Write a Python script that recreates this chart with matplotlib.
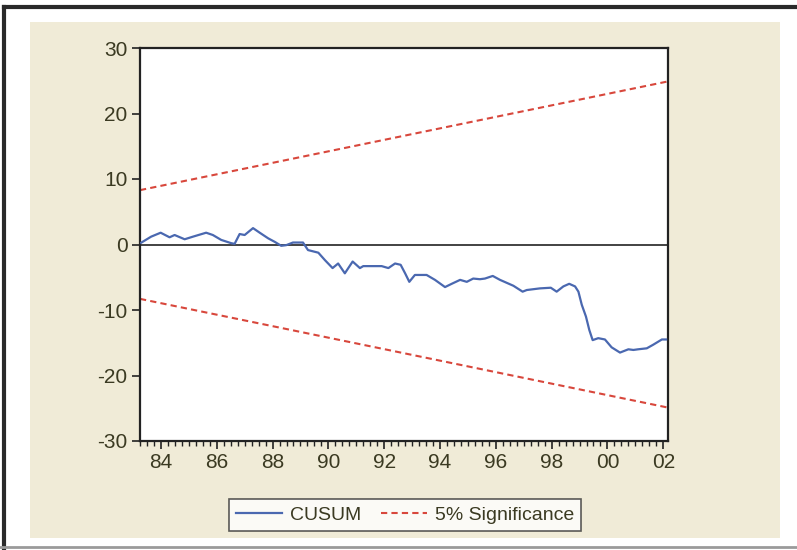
#CUSUM test plot (recursive residuals) with 5% bands
import matplotlib
matplotlib.use('Agg')
import matplotlib.pyplot as plt
from matplotlib.ticker import FixedLocator, FuncFormatter, MultipleLocator
from matplotlib.patches import Rectangle
from matplotlib.lines import Line2D

# values
years = [1983.29, 1983.65, 1983.99, 1984.31, 1984.49, 1984.85, 1985.15, 1985.62,
         1985.86, 1986.16, 1986.52, 1986.64, 1986.82, 1987.00, 1987.30, 1987.54,
         1987.84, 1988.08, 1988.31, 1988.49, 1988.73, 1989.09, 1989.27, 1989.64,
         1989.88, 1990.15, 1990.35, 1990.59, 1990.87, 1991.13, 1991.25, 1991.91,
         1992.15, 1992.39, 1992.59, 1992.75, 1992.90, 1993.10, 1993.52, 1993.82,
         1994.18, 1994.42, 1994.72, 1994.96, 1995.19, 1995.43, 1995.61, 1995.89,
         1996.15, 1996.63, 1996.96, 1997.11, 1997.58, 1997.97, 1998.18, 1998.42,
         1998.63, 1998.84, 1998.96, 1999.08, 1999.23, 1999.35, 1999.47, 1999.67,
         1999.91, 2000.15, 2000.45, 2000.75, 2000.93, 2001.10, 2001.41, 2001.64,
         2001.95, 2002.10]
cusum = [0.27, 1.2, 1.8, 1.1, 1.45, 0.8, 1.2, 1.8,
         1.45, 0.7, 0.2, 0.1, 1.6, 1.45, 2.5, 1.8,
         0.95, 0.4, -0.2, -0.1, 0.3, 0.3, -0.85, -1.25,
         -2.4, -3.6, -2.9, -4.4, -2.6, -3.6, -3.3, -3.3,
         -3.6, -2.9, -3.1, -4.4, -5.7, -4.65, -4.65, -5.4,
         -6.5, -6.0, -5.4, -5.7, -5.2, -5.3, -5.2, -4.8,
         -5.4, -6.3, -7.2, -6.95, -6.7, -6.6, -7.2, -6.4,
         -6.0, -6.4, -7.2, -9.2, -11.0, -13.05, -14.6, -14.3,
         -14.5, -15.7, -16.5, -16.0, -16.1, -16.0, -15.85, -15.3,
         -14.5, -14.5]
sig_years = [1983.25, 2002.17]
sig_upper = [8.3, 24.9]
sig_lower = [-8.3, -24.9]

yticks = [-30, -20, -10, 0, 10, 20, 30]
xticks = list(range(1984, 2003, 2))

beige = '#f0ebd7'
txt = '#3b3a22'
blue = '#4a68b0'
red = '#d8473c'

plt.rcParams['font.family'] = ['Liberation Sans', 'DejaVu Sans']
plt.rcParams['axes.unicode_minus'] = False

fig = plt.figure(figsize=(7.97, 5.5), dpi=100)
fig.patch.set_facecolor('white')

# beige panel and scan frame (behind the axes)
fig.patches.append(Rectangle((30/797, 1-538/550), 750/797, 516/550, transform=fig.transFigure,
                             facecolor=beige, edgecolor='none', zorder=-5))
fig.lines.append(Line2D([4/797, 4/797], [0, 1-7/550], transform=fig.transFigure, color='#2a2a2a', lw=3, zorder=-4))
fig.lines.append(Line2D([4/797, 1], [1-7/550, 1-7/550], transform=fig.transFigure, color='#2a2a2a', lw=3, zorder=-4))
fig.lines.append(Line2D([0, 1], [1-547/550, 1-547/550], transform=fig.transFigure, color='#9a9a9a', lw=2, zorder=-4))

ax = fig.add_axes([140/797, 1-441/550, 528/797, 393/550])
ax.set_zorder(2)
ax.set_facecolor('white')

ax.axhline(0, color='#222222', lw=1.2, zorder=1)
ax.plot(years, cusum, color=blue, lw=1.6, label='CUSUM', zorder=3)
ax.plot(sig_years, sig_upper, color=red, lw=1.5, dashes=(3, 2), label='5% Significance', zorder=2)
ax.plot(sig_years, sig_lower, color=red, lw=1.5, dashes=(3, 2), zorder=2)

ax.set_xlim(sig_years[0], sig_years[1])
ax.set_ylim(-30, 30)
ax.yaxis.set_major_locator(FixedLocator(yticks))
ax.xaxis.set_major_locator(FixedLocator(xticks))
ax.xaxis.set_minor_locator(MultipleLocator(0.25))
ax.xaxis.set_major_formatter(FuncFormatter(lambda v, p: '%02d' % (int(round(v)) % 100)))

for s in ax.spines.values():
    s.set_color('#222222')
    s.set_linewidth(1.6)
ax.tick_params(axis='both', which='major', direction='out', length=6, width=1.2,
               color='#222222', labelcolor=txt, labelsize=15, pad=3)
ax.tick_params(axis='x', which='minor', direction='out', length=3.5, width=1, color='#222222')

leg = fig.legend(loc='center', bbox_to_anchor=(405/797, 1-515/550), ncol=2,
                 fontsize=14, frameon=True, fancybox=False, handlelength=2.4,
                 handletextpad=0.4, columnspacing=1.0, borderpad=0.35)
leg.set_zorder(3)
leg.get_frame().set_edgecolor('#333333')
leg.get_frame().set_linewidth(1.2)
for t in leg.get_texts():
    t.set_color(txt)

fig.savefig('out.png', dpi=100, facecolor=fig.get_facecolor())
